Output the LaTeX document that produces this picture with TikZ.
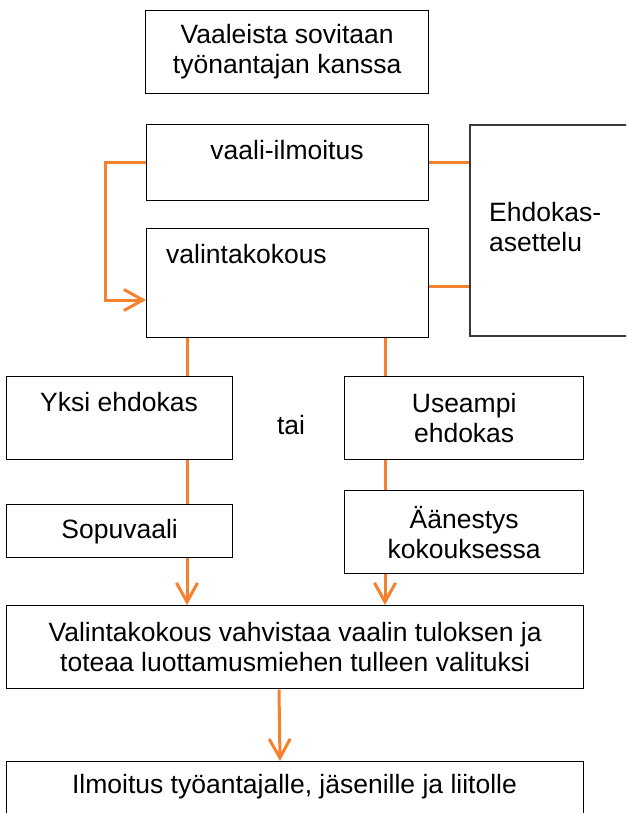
\documentclass[tikz,border=0pt]{standalone}
\usepackage{fontspec}
\setmainfont{Liberation Sans}
\usetikzlibrary{arrows.meta,calc}
\definecolor{org}{HTML}{F3812E}
\definecolor{dgray}{HTML}{3A3A3A}
\begin{document}
\begin{tikzpicture}[x=1pt,y=-1pt,
  box/.style={draw=black,line width=1.3pt,rectangle,anchor=north west,inner sep=0pt,align=center,font=\fontsize{26.5}{30}\selectfont},
  lbl/.style={inner sep=0pt,align=center,font=\fontsize{26.5}{30}\selectfont},
  conn/.style={draw=org,line width=3pt},
  arr/.style={conn,-{Straight Barb[length=19pt,width=21pt,line width=3pt]}}]
\clip (0,0) rectangle (626,813);
\fill[white] (0,0) rectangle (626,813);

\node[box,minimum width=283pt,minimum height=83pt] (b1) at (145,10) {Vaaleista sovitaan\\työnantajan kanssa};
\node[box,minimum width=282pt,minimum height=76pt] (b2) at (146,124) {};
\node[box,minimum width=282pt,minimum height=109pt] (b3) at (146,228) {};
\node[box,draw=dgray,line width=1.8pt,minimum width=190pt,minimum height=211pt] (b4) at (469,124) {};
\node[box,minimum width=226pt,minimum height=83pt] (b5) at (6,376) {};
\node[box,minimum width=239pt,minimum height=83pt] (b6) at (344,376) {Useampi\\ehdokas};
\node[box,minimum width=226pt,minimum height=53pt] (b7) at (6,504) {Sopuvaali};
\node[box,minimum width=239pt,minimum height=83pt] (b8) at (344,490) {Äänestys\\kokouksessa};
\node[box,minimum width=577pt,minimum height=83pt] (b9) at (6,605) {Valintakokous vahvistaa vaalin tuloksen ja\\toteaa luottamusmiehen tulleen valituksi};
\node[box,minimum width=577pt,minimum height=80pt] (b10) at (6,761) {};

\node[lbl] (t2) at (287,150) {vaali-ilmoitus};
\node[lbl,anchor=west] (t3) at (166,254) {valintakokous};
\node[lbl,anchor=west,align=left] (t4) at (489,227) {Ehdokas-\\asettelu};
\node[lbl] (t5) at (119,402) {Yksi ehdokas};
\node[lbl] (t10) at (294.5,787) {Ilmoitus työantajalle, jäsenille ja liitolle};
\node[lbl] (tai) at (291,425) {tai};

\draw[arr] (b2.west) -- ++(-41,0) |- (b3.west |- 0,300);
\draw[conn] (b2.east) -- (b4.west |- b2.east);
\draw[conn] (b3.east |- 0,286) -- (b4.west |- 0,286);
\draw[conn] (b3.south -| 187,0) -- (b5.north -| 187,0);
\draw[conn] (b3.south -| 385,0) -- (b6.north -| 385,0);
\draw[conn] (b5.south -| 187,0) -- (b7.north -| 187,0);
\draw[conn] (b6.south -| 385,0) -- (b8.north -| 385,0);
\draw[arr] (b7.south -| 187,0) -- (b9.north -| 187,0);
\draw[arr] (b8.south -| 385,0) -- (b9.north -| 385,0);
\draw[arr] (b9.south -| 279,0) -- (b10.north -| 280,0);
\end{tikzpicture}
\end{document}
